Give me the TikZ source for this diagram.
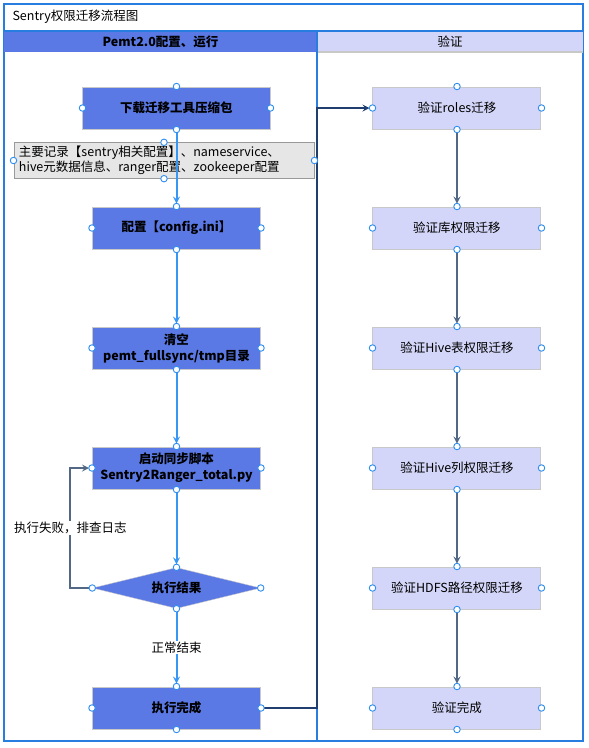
\documentclass[tikz,border=0pt]{standalone}
\usepackage{fontspec}
\setmainfont{Noto Sans CJK SC}
\usetikzlibrary{shapes.geometric}
\definecolor{flowblue}{RGB}{91,121,229}
\definecolor{lavender}{RGB}{211,214,248}
\definecolor{notegray}{RGB}{230,230,230}
\definecolor{edgegray}{RGB}{200,200,200}
\definecolor{linkblue}{RGB}{56,150,245}
\definecolor{handleblue}{RGB}{45,140,240}
\definecolor{frameblue}{RGB}{40,125,225}
\definecolor{slate}{RGB}{82,104,132}
\definecolor{navy}{RGB}{32,62,112}
\begin{document}
\begin{tikzpicture}[x=1pt,y=-1pt,font=\fontsize{12.5}{16}\selectfont]
\tikzstyle{task} = [draw=edgegray,fill=flowblue,rectangle,line width=1pt,minimum width=168pt,minimum height=42pt,align=center,font=\bfseries\fontsize{12.5}{16}\selectfont]
\tikzstyle{check} = [draw=edgegray,fill=lavender,rectangle,line width=1pt,minimum width=168pt,minimum height=42pt]
\tikzstyle{decision} = [draw=edgegray,fill=flowblue,diamond,aspect=4,inner sep=0pt,minimum width=168pt,minimum height=41pt,font=\bfseries\fontsize{12.5}{16}\selectfont]
\tikzstyle{memo} = [draw=gray!80,fill=notegray,rectangle,line width=1pt,minimum height=35pt,text width=290pt,inner xsep=5pt,align=left,font=\fontsize{12.5}{15}\selectfont]
\tikzstyle{lane} = [rectangle,minimum height=21pt,inner sep=0pt]
\tikzstyle{handle} = [draw=handleblue,fill=white,circle,line width=0.9pt,inner sep=0pt,minimum size=6.5pt]
\tikzstyle{connector} = [->,>=stealth,linkblue,line width=2pt,shorten >=3pt]
\tikzstyle{darkconnector} = [->,>=stealth,slate,line width=2pt,shorten >=3pt]
\tikzstyle{tag} = [fill=white,text=black,inner sep=1pt]
\useasboundingbox (0,0) rectangle (589,748);

\draw[frameblue,line width=1.5pt] (4,4) rectangle (583,741);
\node[anchor=west] (title) at (9,17) {Sentry权限迁移流程图};
\node[lane,fill=flowblue,minimum width=313pt,font=\bfseries\fontsize{12.5}{16}\selectfont] (lanel) at (160.5,41.5) {Pemt2.0配置、运行};
\node[lane,fill=lavender,minimum width=266pt] (laner) at (450,41.5) {验证};
\draw[edgegray,line width=1.5pt] (laner.south west) -- (laner.south east);
\draw[frameblue,line width=1.5pt] (4,31) -- (583,31);
\draw[frameblue,line width=1.8pt] (317,31) -- (317,741);

\matrix[ampersand replacement=\&, row sep=77pt, column sep=102pt] at (312,408) {
\node[task,minimum width=187pt](dl){下载迁移工具压缩包}; \& \node[check](vr){验证roles迁移}; \\
\node[task](cfg){配置【config.ini】}; \& \node[check](vdb){验证库权限迁移}; \\
\node[task](clr){清空\\pemt\_fullsync/tmp目录}; \& \node[check](vtab){验证Hive表权限迁移}; \\
\node[task](run){启动同步脚本\\Sentry2Ranger\_total.py}; \& \node[check](vcol){验证Hive列权限迁移}; \\
\node[decision](res){执行结果}; \& \node[check](vhdfs){验证HDFS路径权限迁移}; \\
\node[task](done){执行完成}; \& \node[check](vdone){验证完成}; \\
};

\node[memo] (note) at (164,160.5) {主要记录【sentry相关配置】、nameservice、\\hive元数据信息、ranger配置、zookeeper配置};

\draw [connector] (dl) -- (cfg);
\draw [connector] (cfg) -- (clr);
\draw [connector] (clr) -- (run);
\draw [connector] (run) -- (res);
\draw [connector] (res) -- node[tag] {正常结束} (done);
\draw [darkconnector] (res.west) -- ++(-22,0) |- node[tag,pos=0.25] {执行失败，排查日志} (run.west);
\draw [darkconnector,navy] (done.east) -- ++(56,0) |- (vr.west);
\foreach \a/\b in {vr/vdb,vdb/vtab,vtab/vcol,vcol/vhdfs,vhdfs/vdone}
  \draw [darkconnector] (\a) -- (\b);

\foreach \n in {dl,cfg,clr,run,res,done,vr,vdb,vtab,vcol,vhdfs,vdone,note}
  \foreach \s in {north,south,east,west}
    \node[handle] (\n-\s) at (\n.\s) {};
\end{tikzpicture}
\end{document}
